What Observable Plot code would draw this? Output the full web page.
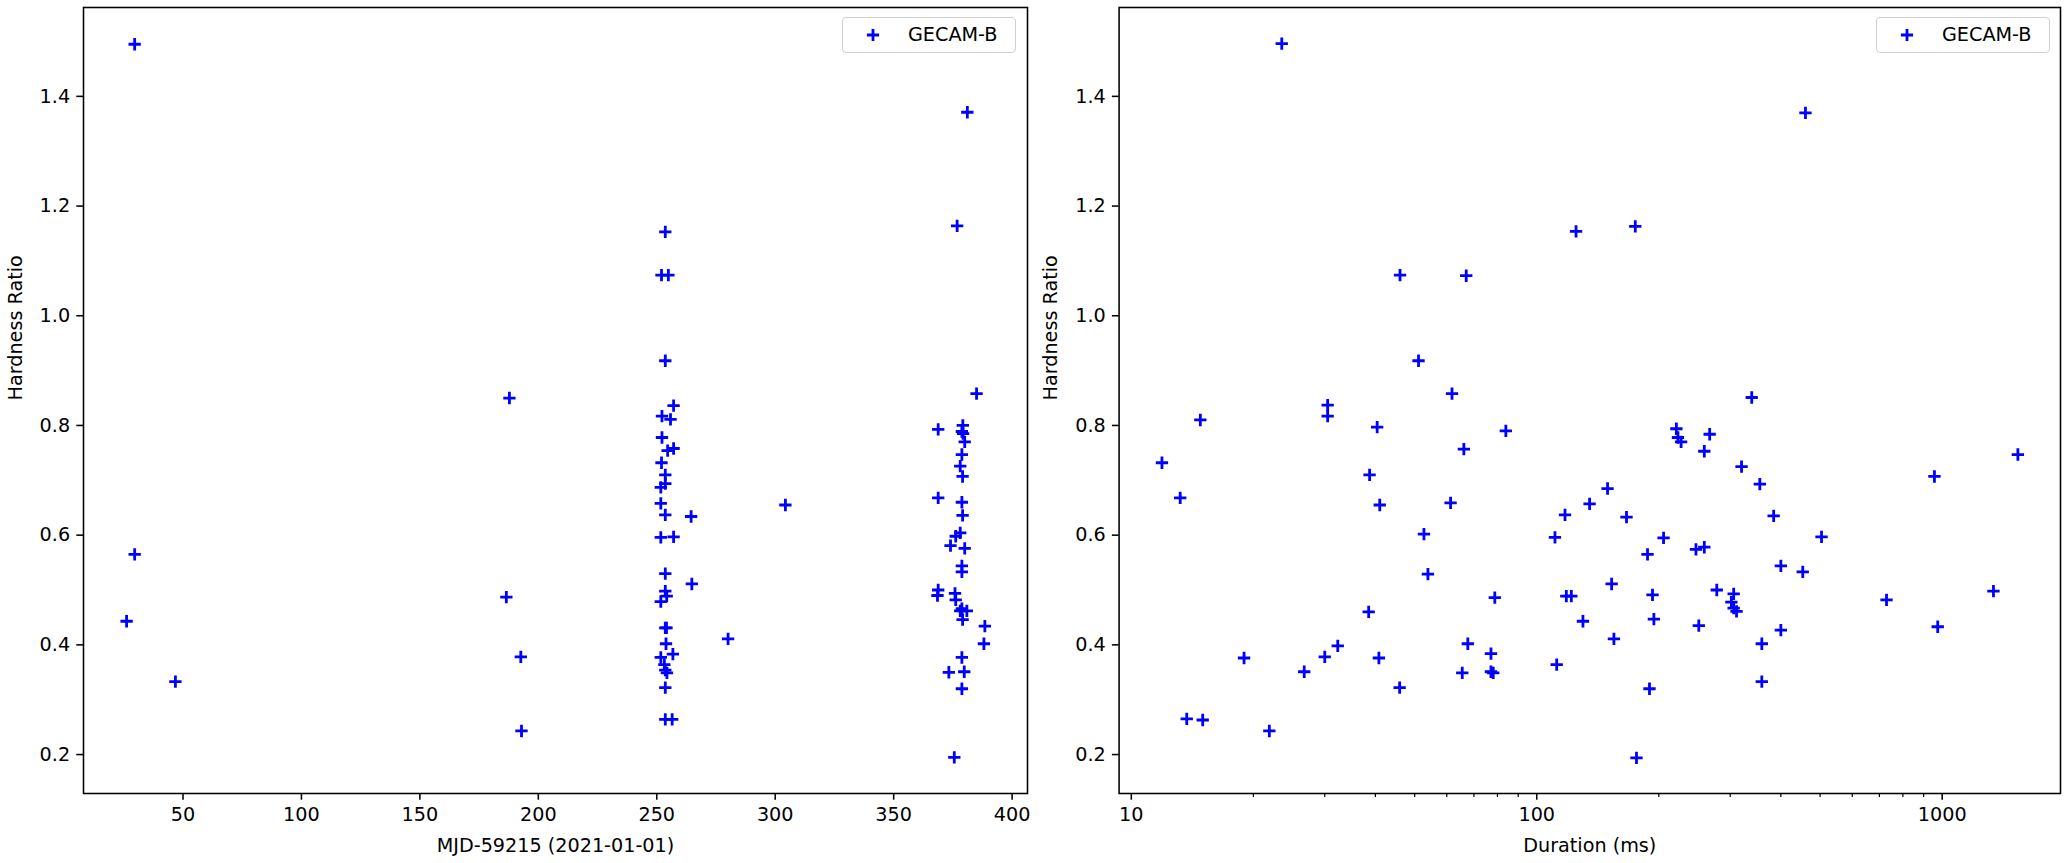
<!DOCTYPE html>
<html>
<head>
<meta charset="utf-8">
<script src="https://cdn.jsdelivr.net/npm/d3@7"></script>
<script src="https://cdn.jsdelivr.net/npm/@observablehq/plot@0.6"></script>
<style>
  html, body { margin: 0; padding: 0; background: #fff; }
  #wrap { position: relative; width: 2067px; height: 863px; overflow: hidden; font-family: "DejaVu Sans", sans-serif; }
  .panel { position: absolute; top: 0; }
  .legend { position: absolute; box-sizing: border-box; height: 36px; border: 1.4px solid #d0d0d0; border-radius: 4px;
            background: rgba(255,255,255,0.8); font-family: "DejaVu Sans", sans-serif; font-size: 19.2px; color: #000; }
  .legend svg { position: absolute; left: 22px; top: 9px; }
  .legend span { position: absolute; left: 65px; top: 5px; white-space: nowrap; }
</style>
</head>
<body>
<div id="wrap"></div>
<script>
// ---- Data: left panel (MJD vs hardness ratio) ----
const leftMjd = [
  26.2, 29.6, 29.6, 46.8, 186.5, 187.8, 192.6, 192.9,
  253.6, 252.0, 254.9, 253.6, 257.1, 252.2, 255.8, 252.2, 257.1, 254.6,
  252.0, 253.6, 253.6, 251.7, 251.7, 253.6, 264.5, 251.7, 257.1, 253.6,
  264.8, 253.6, 254.2, 251.7, 253.6, 254.1, 280.1, 253.9, 256.8, 251.7,
  253.2, 253.6, 254.3, 253.6, 253.6, 256.5,
  304.3,
  381.1, 376.8, 385.0, 368.8, 379.2, 378.8, 379.3, 380.0, 378.8, 378.1,
  379.1, 368.8, 378.8, 379.1, 378.1, 376.2, 374.0, 380.0, 378.8, 378.8,
  368.8, 368.5, 375.9, 376.2, 378.8, 380.9, 378.1, 379.1, 388.5, 388.1,
  378.8, 373.3, 379.8, 378.8, 375.6
];
const leftHardness = [
  0.443, 1.495, 0.565, 0.333, 0.487, 0.850, 0.378, 0.243,
  1.153, 1.074, 1.074, 0.918, 0.836, 0.817, 0.811, 0.778, 0.758, 0.754,
  0.732, 0.710, 0.694, 0.687, 0.658, 0.637, 0.634, 0.596, 0.597, 0.530,
  0.511, 0.498, 0.489, 0.479, 0.431, 0.431, 0.411, 0.402, 0.383, 0.377,
  0.364, 0.354, 0.349, 0.322, 0.264, 0.264,
  0.655,
  1.371, 1.164, 0.858, 0.793, 0.800, 0.789, 0.785, 0.770, 0.747, 0.726,
  0.707, 0.668, 0.660, 0.636, 0.604, 0.598, 0.581, 0.576, 0.544, 0.533,
  0.500, 0.490, 0.494, 0.482, 0.466, 0.462, 0.462, 0.446, 0.434, 0.402,
  0.377, 0.350, 0.351, 0.320, 0.195
];

// ---- Data: right panel (duration vs hardness ratio) ----
const rightDuration = [
  23.5, 460, 125, 175, 46, 67, 51.1,
  61.8, 30.5, 30.5, 14.8, 40.4, 83.9, 66.1, 11.9, 38.7, 13.2, 41.0, 61.3,
  135, 117.4, 52.7, 110.9, 53.9, 78.8, 118.3, 121.7, 130, 38.5, 67.6,
  32.3, 77.1, 18.97, 30.0, 40.8, 112, 26.7, 65.5, 77.1, 78.1, 45.9,
  13.7, 15.0, 21.9,
  339, 221, 223, 227, 267, 259, 1537, 957, 320, 355, 149.5, 166.5, 384,
  205.5, 504, 187.6, 247, 259, 400, 453, 153, 193, 278, 306, 302, 306,
  311, 729, 1338, 194.5, 251, 975, 400, 155, 359, 189.7, 359, 176.2
];
const rightHardness = [
  1.496, 1.370, 1.154, 1.163, 1.074, 1.073, 0.918,
  0.858, 0.837, 0.817, 0.810, 0.797, 0.790, 0.757, 0.732, 0.710, 0.668, 0.655, 0.659,
  0.657, 0.637, 0.602, 0.596, 0.529, 0.486, 0.489, 0.489, 0.443, 0.460, 0.402,
  0.398, 0.384, 0.376, 0.378, 0.376, 0.364, 0.351, 0.349, 0.351, 0.349, 0.322,
  0.265, 0.263, 0.243,
  0.851, 0.794, 0.778, 0.770, 0.784, 0.753, 0.747, 0.707, 0.725, 0.693, 0.685, 0.633, 0.635,
  0.595, 0.597, 0.565, 0.574, 0.578, 0.544, 0.533, 0.511, 0.491, 0.500, 0.493, 0.478, 0.467,
  0.461, 0.482, 0.498, 0.447, 0.435, 0.433, 0.427, 0.411, 0.402, 0.320, 0.333, 0.194
];

// ---- Ticks and labels ----
const leftXTicks = [50, 100, 150, 200, 250, 300, 350, 400];
const rightXTicks = [10, 100, 1000];
const rightXMinor = [20, 30, 40, 50, 60, 70, 80, 90, 200, 300, 400, 500, 600, 700, 800, 900];
const yTicks = [0.2, 0.4, 0.6, 0.8, 1.0, 1.2, 1.4];
const yLabel = "Hardness Ratio";
const leftXLabel = "MJD-59215 (2021-01-01)";
const rightXLabel = "Duration (ms)";
const seriesName = "GECAM-B";

const leftData = leftMjd.map((x, i) => ({x, y: leftHardness[i]}));
const rightData = rightDuration.map((x, i) => ({x, y: rightHardness[i]}));

const FS = 19.2, TICK = 6.7, PAD = 6.7, LW = 1.55;
const H = 863, MT = 7, MB = 70;

function panel({data, width, marginLeft, marginRight, xOpts, xTicks, minor, xLabel}) {
  const marks = [
    Plot.axisY(yTicks, {tickSize: TICK, tickPadding: PAD, fontSize: FS, strokeWidth: LW,
      tickFormat: d3.format(".1f"), label: null}),
    Plot.axisX(xTicks, {tickSize: TICK, tickPadding: PAD, fontSize: FS, strokeWidth: LW,
      tickFormat: d => String(d), label: null})
  ];
  if (minor) marks.push(Plot.axisX(minor, {tickSize: 4, strokeWidth: 1.2, tickFormat: () => "", label: null}));
  marks.push(
    Plot.dot(data, {x: "x", y: "y", symbol: "plus", r: 4.05, fill: "none", stroke: "blue", strokeWidth: 2.8}),
    Plot.frame({stroke: "black", strokeWidth: LW}),
    Plot.text([xLabel], {frameAnchor: "bottom", dy: 52, lineAnchor: "middle", fontSize: FS, fill: "black"}),
    Plot.text([yLabel], {frameAnchor: "left", dx: -68, rotate: -90, lineAnchor: "middle", fontSize: FS, fill: "black"})
  );
  return Plot.plot({
    width, height: H, marginLeft, marginRight, marginTop: MT, marginBottom: MB,
    style: {fontFamily: "DejaVu Sans", fontSize: FS + "px", color: "black", background: "white", overflow: "visible"},
    x: xOpts,
    y: {domain: [0.129, 1.562]},
    marks
  });
}

const wrap = document.getElementById("wrap");

const left = panel({
  data: leftData, width: 1040, marginLeft: 83, marginRight: 13,
  xOpts: {domain: [8, 406.5]}, xTicks: leftXTicks, xLabel: leftXLabel
});
left.classList.add("panel"); left.style.left = "0px";
wrap.appendChild(left);

const right = panel({
  data: rightData, width: 1027, marginLeft: 78.6, marginRight: 7,
  xOpts: {type: "log", domain: [9.33, 1958]}, xTicks: rightXTicks, minor: rightXMinor, xLabel: rightXLabel
});
right.classList.add("panel"); right.style.left = "1040px";
wrap.appendChild(right);

function legend(leftPx, widthPx) {
  const d = document.createElement("div");
  d.className = "legend";
  d.style.left = leftPx + "px"; d.style.top = "17px"; d.style.width = widthPx + "px";
  d.innerHTML = '<svg width="16" height="16" viewBox="-8 -8 16 16"><path d="M-6.1,0H6.1M0,-6.1V6.1" stroke="blue" stroke-width="2.8" fill="none"/></svg>';
  const s = document.createElement("span");
  s.textContent = seriesName;
  d.appendChild(s);
  wrap.appendChild(d);
}
legend(842, 174);
legend(1876, 174);
</script>
</body>
</html>
